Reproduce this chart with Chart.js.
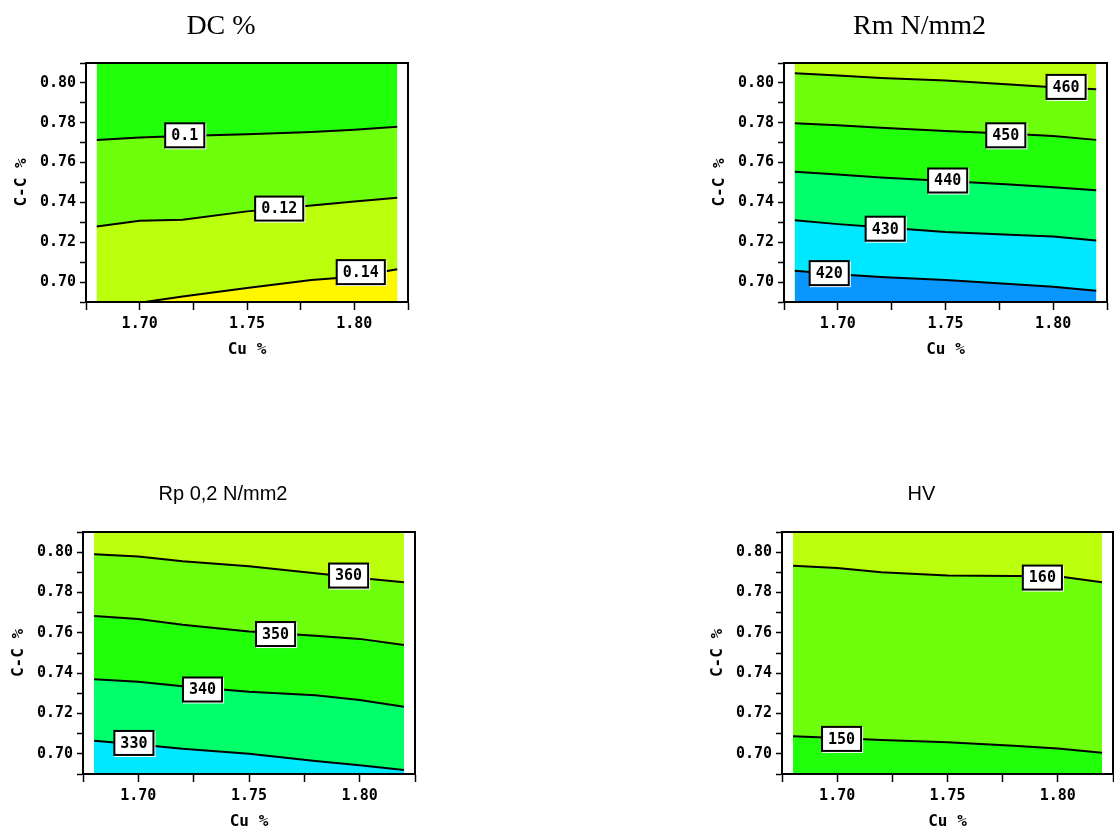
<!DOCTYPE html>
<html>
<head>
<meta charset="utf-8">
<script src="https://cdn.jsdelivr.net/npm/chart.js@4.4.1/dist/chart.umd.min.js"></script>
<style>
  body { margin: 0; background: #fff; width: 1114px; height: 832px; position: relative; overflow: hidden; }
  canvas { position: absolute; }
</style>
</head>
<body>
<canvas id="dc"></canvas>
<canvas id="rm"></canvas>
<canvas id="rp"></canvas>
<canvas id="hv"></canvas>
<script>
// shared axes
const cuValues = [1.68, 1.70, 1.72, 1.75, 1.78, 1.80, 1.82];
const ccMin = 0.69, ccMax = 0.81;
const cuMin = 1.675, cuMax = 1.825;
const xTickValues = [1.675, 1.70, 1.725, 1.75, 1.775, 1.80, 1.825];
const xTickLabels = ['', '1.70', '', '1.75', '', '1.80', ''];
const yTickValues = [0.69, 0.70, 0.71, 0.72, 0.73, 0.74, 0.75, 0.76, 0.77, 0.78, 0.79, 0.80, 0.81];
const yTickLabels = ['', '0.70', '', '0.72', '', '0.74', '', '0.76', '', '0.78', '', '0.80', ''];

// DC %  (contours listed bottom -> top, C-C % read at each cuValues)
const dcLevels = ['0.14', '0.12', '0.1'];
const dc014 = [0.685, 0.6896, 0.6928, 0.697, 0.701, 0.7027, 0.7064];
const dc012 = [0.7279, 0.7308, 0.7313, 0.7355, 0.7385, 0.7405, 0.7423];
const dc010 = [0.7714, 0.7726, 0.7734, 0.7742, 0.7754, 0.7765, 0.778];
const dcLabelCu = [1.803, 1.765, 1.721];
const dcLabelCc = [0.705, 0.7369, 0.7737];

// Rm N/mm2
const rmLevels = ['420', '430', '440', '450', '460'];
const rm420 = [0.7057, 0.7039, 0.7025, 0.701, 0.699, 0.6976, 0.6956];
const rm430 = [0.731, 0.7291, 0.7275, 0.7251, 0.7238, 0.7229, 0.7209];
const rm440 = [0.7554, 0.754, 0.7525, 0.7507, 0.749, 0.7476, 0.7461];
const rm450 = [0.7798, 0.7788, 0.7775, 0.7759, 0.7745, 0.7734, 0.7714];
const rm460 = [0.8049, 0.8037, 0.8025, 0.8012, 0.7992, 0.7978, 0.7968];
const rmLabelCu = [1.696, 1.722, 1.751, 1.778, 1.806];
const rmLabelCc = [0.7045, 0.7268, 0.751, 0.7737, 0.798];

// Rp 0,2 N/mm2
const rpLevels = ['330', '340', '350', '360'];
const rp330 = [0.7065, 0.7046, 0.7025, 0.7001, 0.6965, 0.6943, 0.692];
const rp340 = [0.737, 0.7357, 0.7335, 0.7308, 0.729, 0.7267, 0.7234];
const rp350 = [0.7684, 0.7668, 0.764, 0.7607, 0.7585, 0.757, 0.754];
const rp360 = [0.799, 0.7978, 0.7955, 0.793, 0.7895, 0.7872, 0.7851];
const rpLabelCu = [1.698, 1.729, 1.762, 1.795];
const rpLabelCc = [0.7054, 0.7319, 0.7594, 0.7884];

// HV
const hvLevels = ['150', '160'];
const hv150 = [0.7087, 0.7079, 0.7068, 0.7057, 0.704, 0.7026, 0.7005];
const hv160 = [0.7933, 0.7921, 0.790, 0.7884, 0.7882, 0.788, 0.7851];
const hvLabelCu = [1.702, 1.793];
const hvLabelCc = [0.7074, 0.7874];

// band colours, bottom -> top
const GREEN = '#22ff0a', LIME = '#6eff0c', YGREEN = '#bbff0c', YELLOW = '#fff700';
const SPRING = '#00ff6a', CYAN = '#00e8ff', AZURE = '#0a96ff';
const dcColors = [YELLOW, YGREEN, LIME, GREEN];
const rmColors = [AZURE, CYAN, SPRING, GREEN, LIME, YGREEN];
const rpColors = [CYAN, SPRING, GREEN, LIME, YGREEN];
const hvColors = [GREEN, LIME, YGREEN];

const tickFont = { family: 'DejaVu Sans Mono', size: 15, weight: 'bold' };
const axisFont = { family: 'DejaVu Sans Mono', size: 16, weight: 'bold' };

const decorPlugin = {
  id: 'decor',
  afterDatasetsDraw(chart, args, opts) {
    const { ctx, chartArea: a, scales: { x, y } } = chart;
    ctx.save();
    ctx.strokeStyle = '#000';
    ctx.lineWidth = 2;
    ctx.strokeRect(a.left, a.top, a.right - a.left, a.bottom - a.top);
    ctx.font = 'bold 15px "DejaVu Sans Mono"';
    ctx.textAlign = 'center';
    ctx.textBaseline = 'middle';
    opts.levels.forEach((t, i) => {
      const px = x.getPixelForValue(opts.cu[i]);
      const py = y.getPixelForValue(opts.cc[i]);
      const w = ctx.measureText(t).width + 12, h = 24;
      ctx.fillStyle = '#fff';
      ctx.fillRect(px - w / 2, py - h / 2, w + 2, h + 2);
      ctx.strokeRect(px - w / 2, py - h / 2, w, h);
      ctx.fillStyle = '#000';
      ctx.fillText(t, px, py + 1);
    });
    ctx.font = opts.titleFont;
    ctx.fillText(opts.title, (a.left + a.right) / 2 - 26, opts.titleY);
    ctx.restore();
  }
};

function contourChart(id, pos, title, titleFont, levels, lines, colors, labelCu, labelCc) {
  const cv = document.getElementById(id);
  const w = 86 + pos.w + 12, h = 63 + pos.h + 60;
  cv.width = w; cv.height = h;
  cv.style.left = (pos.left - 86) + 'px';
  cv.style.top = (pos.top - 63) + 'px';

  const datasets = [{
    data: [{ x: cuValues[0], y: ccMax }, { x: cuValues[cuValues.length - 1], y: ccMax }],
    borderWidth: 0, pointRadius: 0, fill: 'start',
    backgroundColor: colors[lines.length], order: lines.length + 1
  }];
  lines.forEach((ln, i) => {
    datasets.push({
      data: cuValues.map((cu, k) => ({ x: cu, y: ln[k] })),
      borderColor: '#000', borderWidth: 2, pointRadius: 0, fill: 'start',
      backgroundColor: colors[i], order: i + 1
    });
  });

  new Chart(cv, {
    type: 'line',
    data: { datasets },
    options: {
      responsive: false, animation: false, devicePixelRatio: 1,
      layout: { padding: { top: 63, right: 12, left: 0, bottom: 0 } },
      plugins: {
        legend: { display: false }, tooltip: { enabled: false },
        decor: { levels, cu: labelCu, cc: labelCc, title, titleFont, titleY: pos.titleY }
      },
      scales: {
        x: {
          type: 'linear', min: cuMin, max: cuMax,
          afterBuildTicks: s => { s.ticks = xTickValues.map(v => ({ value: v })); },
          afterFit: s => { s.height = 60; },
          ticks: {
            autoSkip: false, maxRotation: 0, color: '#000', font: tickFont, padding: 5,
            callback: v => xTickLabels[xTickValues.findIndex(t => Math.abs(t - v) < 1e-9)]
          },
          grid: { drawOnChartArea: false, tickLength: 8, color: '#000', tickWidth: 1.5 },
          border: { color: '#000', width: 2 },
          title: { display: true, text: 'Cu %', color: '#000', font: axisFont, padding: { top: 0, bottom: 3 } }
        },
        y: {
          type: 'linear', min: ccMin, max: ccMax,
          afterBuildTicks: s => { s.ticks = yTickValues.map(v => ({ value: v })); },
          afterFit: s => { s.width = 86; },
          ticks: {
            autoSkip: false, color: '#000', font: tickFont, padding: 4,
            callback: v => yTickLabels[yTickValues.findIndex(t => Math.abs(t - v) < 1e-9)]
          },
          grid: { drawOnChartArea: false, tickLength: 6, color: '#000', tickWidth: 1.5 },
          border: { color: '#000', width: 2 },
          title: { display: true, text: 'C-C %', color: '#000', font: axisFont, padding: { top: 12, bottom: 0 } }
        }
      }
    },
    plugins: [decorPlugin]
  });
}

const serifTitle = '28px "Liberation Serif"';
const sansTitle = '20px "Liberation Sans"';

contourChart('dc', { left: 86, top: 63, w: 322, h: 239, titleY: 27 }, 'DC %', serifTitle,
  dcLevels, [dc014, dc012, dc010], dcColors, dcLabelCu, dcLabelCc);
contourChart('rm', { left: 784, top: 63, w: 323, h: 239, titleY: 27 }, 'Rm N/mm2', serifTitle,
  rmLevels, [rm420, rm430, rm440, rm450, rm460], rmColors, rmLabelCu, rmLabelCc);
contourChart('rp', { left: 83, top: 532, w: 332, h: 242, titleY: 25 }, 'Rp 0,2 N/mm2', sansTitle,
  rpLevels, [rp330, rp340, rp350, rp360], rpColors, rpLabelCu, rpLabelCc);
contourChart('hv', { left: 782, top: 532, w: 331, h: 242, titleY: 25 }, 'HV', sansTitle,
  hvLevels, [hv150, hv160], hvColors, hvLabelCu, hvLabelCc);
</script>
</body>
</html>
